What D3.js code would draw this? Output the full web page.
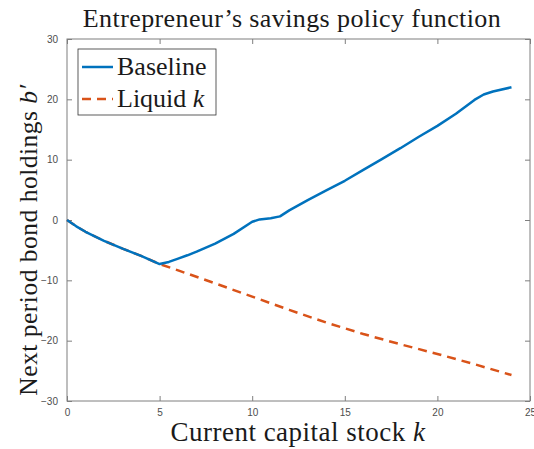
<!DOCTYPE html>
<html>
<head>
<meta charset="utf-8">
<script src="https://cdn.jsdelivr.net/npm/d3@7"></script>
<style>
  body { margin: 0; background: #fff; }
  svg { display: block; }
  .tick text { font-family: "Liberation Sans", Arial, sans-serif; font-size: 10px; fill: #4d4d4d; }
  .serif { font-family: "Liberation Serif", "Times New Roman", serif; fill: #1a1a1a; }
</style>
</head>
<body>
<div id="app"></div>
<script>
// capital grid and policy values
const kBase = [0, 0.5, 1, 2, 3, 4, 5, 5.5, 6, 6.5, 7, 8, 9, 10, 10.4, 11, 11.5, 12, 13, 14, 15, 16, 17, 18, 19, 20, 21, 22, 22.5, 23, 24];
const baseline = [0, -1.05, -1.95, -3.45, -4.75, -5.95, -7.3, -6.95, -6.4, -5.85, -5.25, -3.9, -2.3, -0.3, 0.1, 0.3, 0.6, 1.6, 3.3, 4.9, 6.5, 8.3, 10.1, 11.9, 13.8, 15.6, 17.6, 19.9, 20.8, 21.3, 22.0];
const kLiq = [0, 0.5, 1, 2, 3, 4, 5, 6, 8, 10, 12, 14, 16, 18, 20, 22, 24];
const liquid = [0, -1.05, -1.95, -3.45, -4.75, -5.95, -7.3, -8.35, -10.5, -12.7, -14.9, -17.0, -18.9, -20.6, -22.2, -23.9, -25.7];
const xTicks = [0, 5, 10, 15, 20, 25];
const yTicks = [-30, -20, -10, 0, 10, 20, 30];
const seriesNames = ["Baseline", "Liquid k"];

const width = 534, height = 449;
const margin = { top: 39, right: 4, bottom: 48, left: 67 };
const innerWidth = width - margin.left - margin.right;
const innerHeight = height - margin.top - margin.bottom;

const svg = d3.select('#app').append('svg')
    .attr('width', width).attr('height', height);
const g = svg.append('g')
    .attr('transform', `translate(${margin.left}, ${margin.top})`);

const x = d3.scaleLinear().domain([0, 25]).range([0, innerWidth]);
const y = d3.scaleLinear().domain([-30, 30]).range([innerHeight, 0]);

const axisColor = '#7f7f7f';
const tl = 5;

// axes (MATLAB style: inward ticks, box on)
const styleAxis = sel => {
    sel.select('.domain').remove();
    sel.selectAll('.tick line').attr('stroke', axisColor);
};
const noLabels = sel => sel.selectAll('.tick text').remove();

g.append('g').attr('transform', `translate(0,${innerHeight})`)
    .call(d3.axisBottom(x).tickValues(xTicks).tickSizeInner(-tl).tickSizeOuter(0).tickPadding(8))
    .call(styleAxis);
g.append('g')
    .call(d3.axisTop(x).tickValues(xTicks).tickSizeInner(-tl).tickSizeOuter(0))
    .call(styleAxis).call(noLabels);
g.append('g')
    .call(d3.axisLeft(y).tickValues(yTicks).tickSizeInner(-tl).tickSizeOuter(0).tickPadding(9))
    .call(styleAxis);
g.append('g').attr('transform', `translate(${innerWidth},0)`)
    .call(d3.axisRight(y).tickValues(yTicks).tickSizeInner(-tl).tickSizeOuter(0))
    .call(styleAxis).call(noLabels);
g.append('rect')
    .attr('width', innerWidth).attr('height', innerHeight)
    .attr('fill', 'none').attr('stroke', axisColor).attr('stroke-width', 1);

const line = d3.line().x(d => x(d[0])).y(d => y(d[1]));

g.append('path')
    .datum(d3.zip(kLiq, liquid))
    .attr('fill', 'none').attr('stroke', '#D95319').attr('stroke-width', 2.5)
    .attr('stroke-dasharray', '9,6')
    .attr('d', line);

g.append('path')
    .datum(d3.zip(kBase, baseline))
    .attr('fill', 'none').attr('stroke', '#0072BD').attr('stroke-width', 2.5)
    .attr('stroke-linejoin', 'round')
    .attr('d', line);

// legend
const lg = svg.append('g').attr('transform', 'translate(78,49)');
lg.append('rect').attr('width', 138).attr('height', 66)
    .attr('fill', '#fff').attr('stroke', '#333').attr('stroke-width', 0.8);
const colors = ['#0072BD', '#D95319'];
const dashes = [null, '9,6'];
seriesNames.forEach((name, i) => {
    const yy = 18 + i * 32;
    lg.append('line').attr('x1', 4).attr('x2', 35).attr('y1', yy).attr('y2', yy)
        .attr('stroke', colors[i]).attr('stroke-width', 2.5)
        .attr('stroke-dasharray', dashes[i]);
    const t = lg.append('text').attr('class', 'serif').attr('x', 39).attr('y', yy + 8)
        .attr('font-size', 26);
    if (name.endsWith(' k')) {
        t.append('tspan').text(name.slice(0, -1));
        t.append('tspan').attr('font-style', 'italic').text('k');
    } else {
        t.text(name);
    }
});

// title and axis labels
svg.append('text').attr('class', 'serif')
    .attr('x', 292).attr('y', 27)
    .attr('text-anchor', 'middle').attr('font-size', 26)
    .attr('letter-spacing', 0.4)
    .text('Entrepreneur\u2019s savings policy function');

const xl = svg.append('text').attr('class', 'serif')
    .attr('x', 298).attr('y', 441)
    .attr('text-anchor', 'middle').attr('font-size', 27)
    .attr('letter-spacing', 0.5);
xl.append('tspan').text('Current capital stock ');
xl.append('tspan').attr('font-style', 'italic').text('k');

const yl = svg.append('text').attr('class', 'serif')
    .attr('transform', 'translate(37,240) rotate(-90)')
    .attr('text-anchor', 'middle').attr('font-size', 25.5)
    .attr('letter-spacing', 0.5);
yl.append('tspan').text('Next period bond holdings ');
yl.append('tspan').attr('font-style', 'italic').text('b\u2032');
</script>
</body>
</html>
